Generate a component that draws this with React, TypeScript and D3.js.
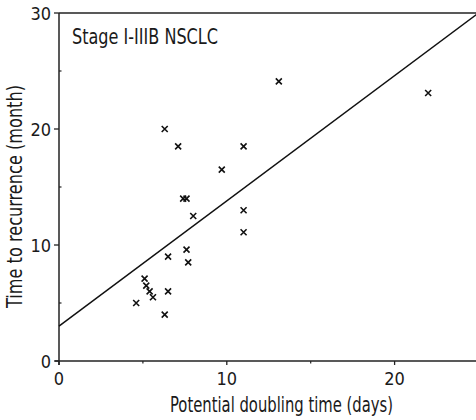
import * as d3 from "d3";
import { useEffect, useRef } from "react";

// doubling time (days) vs time to recurrence (month)
const doublingDays = [6.3, 7.1, 11.0, 9.7, 7.4, 7.6, 8.0, 11.0, 11.0, 7.6, 6.5, 7.7, 5.1, 5.2, 5.4, 5.6, 6.5, 4.6, 6.3, 13.1, 22.0];
const recurrenceMonths = [20.0, 18.5, 18.5, 16.5, 14.0, 14.0, 12.5, 13.0, 11.1, 9.6, 9.0, 8.5, 7.1, 6.5, 6.0, 5.5, 6.0, 5.0, 4.0, 24.1, 23.1];

// fitted line ends (x, y)
const fitX = [0, 25];
const fitY = [3, 30];

const xTicks = [0, 10, 20];
const xMinorTicks = [5, 15];
const yTicks = [0, 10, 20, 30];
const yMinorTicks = [5, 15, 25];

const FONT = "'DejaVu Sans Condensed', 'Liberation Sans', sans-serif";

const App = () => {
    const ref = useRef(null);

    const width = 476;
    const height = 420;
    const margin = { top: 13, left: 59, bottom: 59, right: -2.5 };

    useEffect(() => {
        const svg = d3.select(ref.current);
        svg.selectAll("*").remove();

        const x = d3.scaleLinear().domain([0, 25]).range([margin.left, width - margin.right]);
        const y = d3.scaleLinear().domain([0, 30]).range([height - margin.bottom, margin.top]);

        const g = svg.append("g");

        // рамка: верх, лево, низ
        g.append("line")
            .attr("x1", x(0)).attr("x2", x(25))
            .attr("y1", y(30)).attr("y2", y(30))
            .attr("stroke", "#222").attr("stroke-width", 1.5);
        g.append("line")
            .attr("x1", x(0)).attr("x2", x(0))
            .attr("y1", y(30)).attr("y2", y(0) + 4)
            .attr("stroke", "#222").attr("stroke-width", 1.5);
        g.append("line")
            .attr("x1", x(0) - 4).attr("x2", x(25))
            .attr("y1", y(0)).attr("y2", y(0))
            .attr("stroke", "#222").attr("stroke-width", 1.5);

        // ticks
        xTicks.forEach(t => {
            g.append("line")
                .attr("x1", x(t)).attr("x2", x(t))
                .attr("y1", y(0)).attr("y2", y(0) + 4)
                .attr("stroke", "#222").attr("stroke-width", 1.3);
            g.append("text")
                .attr("x", x(t)).attr("y", y(0) + 24)
                .attr("text-anchor", "middle")
                .style("font-family", FONT).style("font-size", "18px").style("fill", "#1a1a1a")
                .text(t);
        });
        xMinorTicks.forEach(t => {
            g.append("line")
                .attr("x1", x(t)).attr("x2", x(t))
                .attr("y1", y(0)).attr("y2", y(0) + 2.5)
                .attr("stroke", "#222").attr("stroke-width", 1.2);
        });
        yTicks.forEach(t => {
            g.append("line")
                .attr("x1", x(0) - 5).attr("x2", x(0))
                .attr("y1", y(t)).attr("y2", y(t))
                .attr("stroke", "#222").attr("stroke-width", 1.3);
            g.append("text")
                .attr("x", x(0) - 8).attr("y", y(t) + 6.5)
                .attr("text-anchor", "end")
                .style("font-family", FONT).style("font-size", "18px").style("fill", "#1a1a1a")
                .text(t);
        });
        yMinorTicks.forEach(t => {
            g.append("line")
                .attr("x1", x(0)).attr("x2", x(0) + 2.5)
                .attr("y1", y(t)).attr("y2", y(t))
                .attr("stroke", "#222").attr("stroke-width", 1.2);
        });

        // regression line
        g.append("line")
            .attr("x1", x(fitX[0])).attr("y1", y(fitY[0]))
            .attr("x2", x(fitX[1])).attr("y2", y(fitY[1]))
            .attr("stroke", "#111").attr("stroke-width", 1.5);

        // точки — крестики
        const s = 3;
        const pts = doublingDays.map((d, i) => [x(d), y(recurrenceMonths[i])]);
        g.selectAll("path.pt")
            .data(pts)
            .enter()
            .append("path")
            .attr("class", "pt")
            .attr("d", p => `M${p[0] - s},${p[1] - s}L${p[0] + s},${p[1] + s}M${p[0] - s},${p[1] + s}L${p[0] + s},${p[1] - s}`)
            .attr("stroke", "#111").attr("stroke-width", 1.6)
            .attr("fill", "none");

        // label inside plot
        g.append("text")
            .attr("x", 72).attr("y", 43.5)
            .attr("textLength", 146).attr("lengthAdjust", "spacingAndGlyphs")
            .style("font-family", FONT).style("font-size", "21.5px").style("fill", "#1a1a1a")
            .text("Stage I-IIIB NSCLC");

        // axis titles
        g.append("text")
            .attr("x", 170).attr("y", 412)
            .attr("textLength", 223).attr("lengthAdjust", "spacingAndGlyphs")
            .style("font-family", FONT).style("font-size", "20.5px").style("fill", "#1a1a1a")
            .text("Potential doubling time (days)");
        g.append("text")
            .attr("transform", "translate(22, 308) rotate(-90)")
            .attr("textLength", 223).attr("lengthAdjust", "spacingAndGlyphs")
            .style("font-family", FONT).style("font-size", "20.5px").style("fill", "#1a1a1a")
            .text("Time to recurrence (month)");
    }, []);

    return (
        <svg
            ref={ref}
            width={width}
            height={height}
            style={{ position: "absolute", left: 0, top: 0, background: "#fff" }}
        ></svg>
    );
};

export default App;
